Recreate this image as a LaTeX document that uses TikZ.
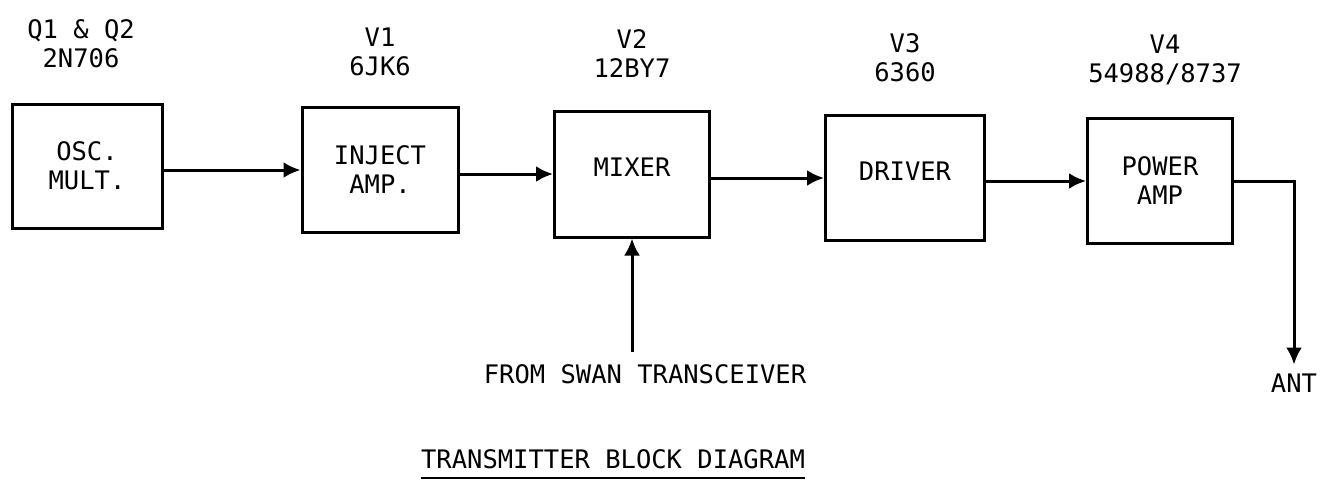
\documentclass[tikz,border=0pt]{standalone}
\usepackage{fontspec}
\setmainfont{DejaVu Sans Mono}
\usetikzlibrary{positioning, arrows.meta}
\tikzset{
  txt/.style={font=\fontsize{25.5}{29}\selectfont, align=center, inner sep=0pt},
  block/.style={txt, draw, line width=3pt},
  part/.style={txt},
  sig/.style={-{Latex[length=17pt,width=16pt]}, line width=3pt},
}

\begin{document}
\begin{tikzpicture}[x=1pt, y=-1pt, node distance=30pt]
\useasboundingbox (0,0) rectangle (1332,485);

%% blocks
\node[block, minimum width=150pt, minimum height=124pt] (osc) at (87,166) {OSC.\\MULT.};
\node[block, minimum width=156pt, minimum height=125pt] (inj) at (380,170) {INJECT\\AMP.};
\node[block, minimum width=155pt, minimum height=126pt] (mix) at (632,174) {\raisebox{14pt}{MIXER}};
\node[block, minimum width=159pt, minimum height=125pt] (drv) at (905,178) {\raisebox{14pt}{DRIVER}};
\node[block, minimum width=145pt, minimum height=125pt] (pa) at (1160,181) {POWER\\AMP};

%% part numbers
\node[part, above=34pt of osc, xshift=-6pt] (osc_p) {Q1 \& Q2\\2N706};
\node[part, above=30pt of inj] (inj_p) {V1\\6JK6};
\node[part, above=32pt of mix] (mix_p) {V2\\12BY7};
\node[part, above=32pt of drv] (drv_p) {V3\\6360};
\node[part, above=32pt of pa, xshift=5pt] (pa_p) {V4\\54988/8737};

%% inputs / outputs
\node[part] (swan) at (645,374) {FROM SWAN TRANSCEIVER};
\node[part] (ant) at (1294,383) {ANT};
\node[part] (title) at (613,459) {TRANSMITTER BLOCK DIAGRAM};
\draw[line width=2.6pt] ([yshift=-9pt]title.south west) -- ([yshift=-9pt]title.south east);

%% signal path
\draw[sig] (osc.east |- inj.west) -- (inj.west);
\draw[sig] (inj.east |- mix.west) -- (mix.west);
\draw[sig] (mix.east |- drv.west) -- (drv.west);
\draw[sig] (drv.east |- pa.west) -- (pa.west);
\draw[sig] (pa.east) -| ([yshift=9pt]ant.north);
\draw[sig] ([yshift=12pt]swan.north -| mix.south) -- (mix.south);

\end{tikzpicture}
\end{document}
